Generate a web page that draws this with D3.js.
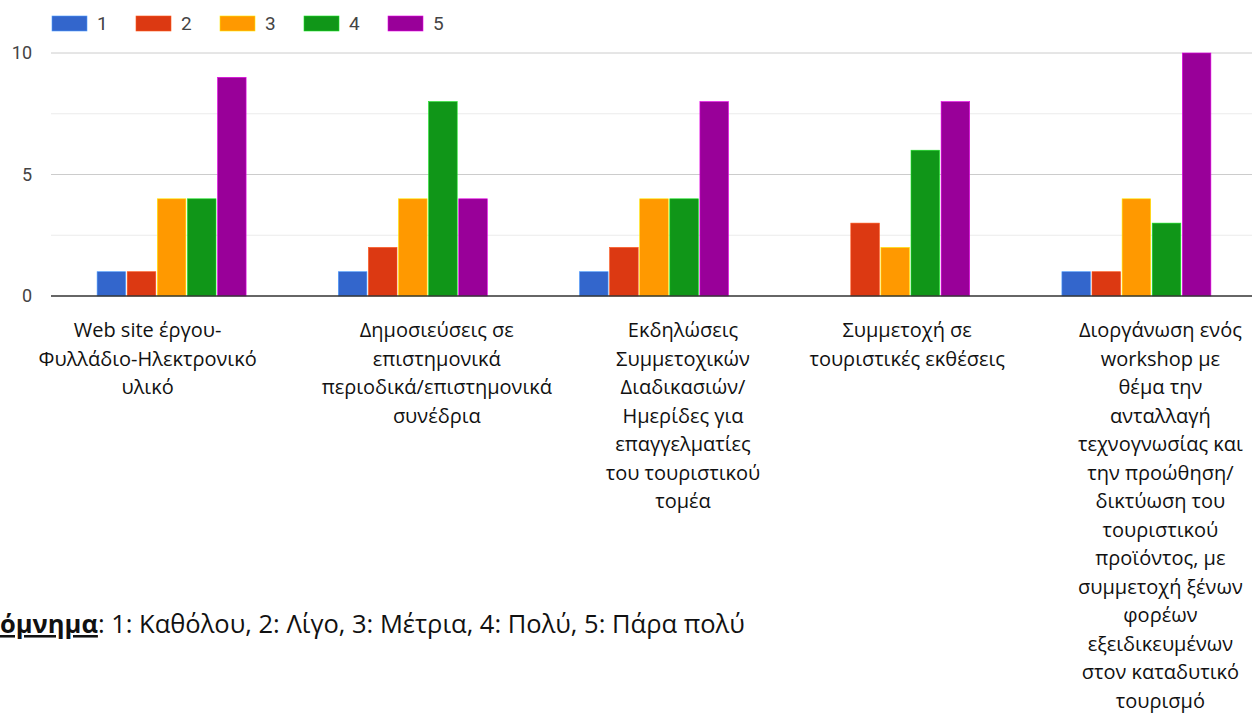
<!DOCTYPE html>
<html><head><meta charset="utf-8">
<script src="https://cdn.jsdelivr.net/npm/d3@7"></script>
<style>body{margin:0;background:#fff;overflow:hidden}svg{display:block}</style>
</head><body><svg id="c" width="1252" height="720"></svg>
<script>
const categories = [
  ["Web site έργου-","Φυλλάδιο-Ηλεκτρονικό","υλικό"],
  ["Δημοσιεύσεις σε","επιστημονικά","περιοδικά/επιστημονικά","συνέδρια"],
  ["Εκδηλώσεις","Συμμετοχικών","Διαδικασιών/","Ημερίδες για","επαγγελματίες","του τουριστικού","τομέα"],
  ["Συμμετοχή σε","τουριστικές εκθέσεις"],
  ["Διοργάνωση ενός","workshop με","θέμα την","ανταλλαγή","τεχνογνωσίας και","την προώθηση/","δικτύωση του","τουριστικού","προϊόντος, με","συμμετοχή ξένων","φορέων","εξειδικευμένων","στον καταδυτικό","τουρισμό"]
];
const seriesNames = ["1","2","3","4","5"];
const s1 = [1,1,1,0,1];
const s2 = [1,2,2,3,1];
const s3 = [4,4,4,2,4];
const s4 = [4,8,4,6,3];
const s5 = [9,4,8,8,10];
const seriesValues = [s1,s2,s3,s4,s5];
const colors = ["#3366cc","#dc3912","#ff9900","#109618","#990099"];
const yTicks = [0,5,10];
const minorTicks = [2.5,7.5];
const noteHead = "Υπόμνημα";
const noteBody = ": 1: Καθόλου, 2: Λίγο, 3: Μέτρια, 4: Πολύ, 5: Πάρα πολύ";

const svg = d3.select("#c");
const catIdx = d3.range(categories.length);
const x = d3.scaleBand().domain(catIdx).range([51, 1257]).paddingInner(0).paddingOuter(0);
const xi = d3.scaleBand().domain(seriesNames).range([-74.5, 74.5]).paddingInner(0.05);
const y = d3.scaleLinear().domain([0,10]).range([296, 53]);

// gridlines
svg.append("g").selectAll("line").data(minorTicks).join("line")
  .attr("x1",51).attr("x2",1252).attr("y1",d=>y(d)).attr("y2",d=>y(d))
  .attr("stroke","#ebebeb").attr("stroke-width",1);
svg.append("g").selectAll("line").data(yTicks.filter(d=>d>0)).join("line")
  .attr("x1",51).attr("x2",1252).attr("y1",d=>y(d)).attr("y2",d=>y(d))
  .attr("stroke","#cccccc").attr("stroke-width",1);

// y axis labels
const ya = svg.append("g").attr("transform","translate(32,0)")
  .call(d3.axisLeft(y).tickValues(yTicks).tickSize(0).tickPadding(0));
ya.select(".domain").remove();
ya.selectAll("text").attr("font-family","Roboto, Arial, sans-serif").attr("font-size",18).attr("fill","#444");

// bars
const groups = svg.append("g").selectAll("g").data(catIdx).join("g")
  .attr("transform",d=>`translate(${x(d)+x.bandwidth()/2},0)`);
groups.selectAll("rect").data(c=>seriesNames.map((s,i)=>({s,i,v:seriesValues[i][c]})).filter(d=>d.v>0)).join("rect")
  .attr("x",d=>xi(d.s)).attr("width",xi.bandwidth())
  .attr("y",d=>y(d.v)).attr("height",d=>y(0)-y(d.v))
  .attr("fill",d=>colors[d.i]).attr("stroke",d=>d3.color(colors[d.i]).brighter(1.2)).attr("stroke-width",0.6);

// baseline
svg.append("line").attr("x1",51).attr("x2",1252).attr("y1",y(0)).attr("y2",y(0))
  .attr("stroke","#333").attr("stroke-width",1.5);

// legend
const lg = svg.append("g").selectAll("g").data(seriesNames).join("g")
  .attr("transform",(d,i)=>`translate(${52+i*84},0)`);
lg.append("rect").attr("x",0).attr("y",16).attr("width",35).attr("height",15)
  .attr("fill",(d,i)=>colors[i]).attr("stroke",(d,i)=>d3.color(colors[i]).brighter(1.2)).attr("stroke-width",0.6);
lg.append("text").attr("x",45).attr("y",30).text(d=>d)
  .attr("font-family","Roboto, Arial, sans-serif").attr("font-size",19).attr("fill","#444");

// category labels
const labelShift = [-24,24,29,12,24];
const lab = svg.append("g").selectAll("text").data(catIdx).join("text")
  .attr("text-anchor","middle").attr("font-family","'Open Sans', 'Noto Sans', sans-serif")
  .attr("font-size",20).attr("fill","#111");
lab.each(function(c){
  const cx = x(c)+x.bandwidth()/2+labelShift[c];
  d3.select(this).selectAll("tspan").data(categories[c]).join("tspan")
    .attr("x",cx).attr("y",(d,i)=>337+i*28.5).text(d=>d);
});

// note
const noteFont = 25.5;
const note = svg.append("text").attr("y",633).attr("font-family","'Open Sans', 'Noto Sans', sans-serif")
  .attr("font-size",noteFont).attr("fill","#111");
note.append("tspan").attr("font-weight","bold").attr("text-decoration","underline").text(noteHead);
note.append("tspan").text(noteBody);
// measure hidden prefix so that the visible text starts at the left edge
const tmp = svg.append("text").attr("font-family","'Open Sans', 'Noto Sans', sans-serif").attr("font-size",noteFont).attr("font-weight","bold").text("Υπ");
const w = tmp.node().getComputedTextLength(); tmp.remove();
note.attr("x",-w);
</script></body></html>
